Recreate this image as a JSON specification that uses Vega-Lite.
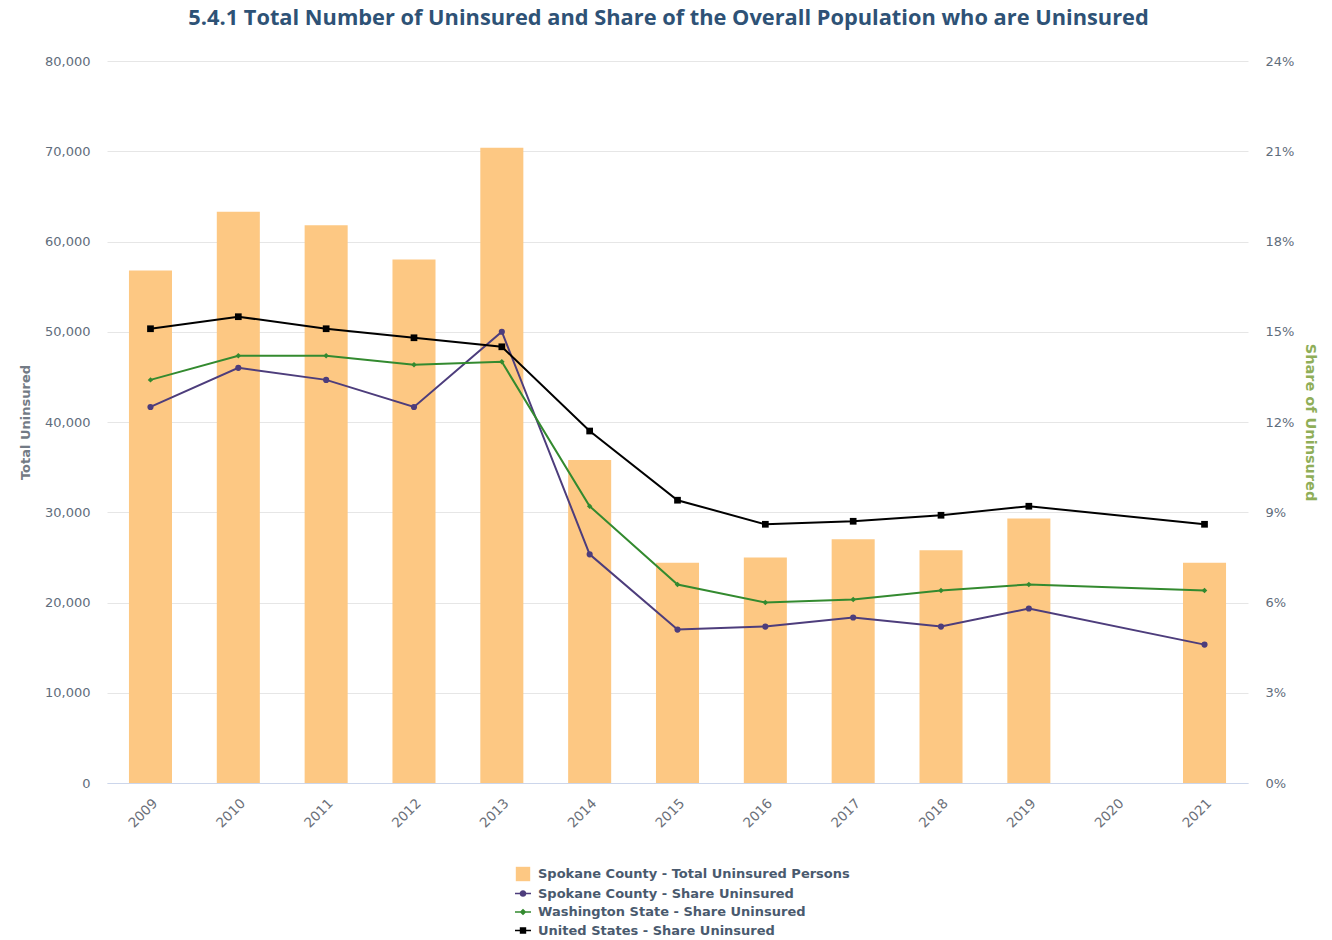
{
  "$schema": "https://vega.github.io/schema/vega-lite/v6.json",
  "autosize": {"type": "none"},
  "width": 1141,
  "height": 722,
  "padding": {"left": 107, "top": 61, "right": 84, "bottom": 157},
  "background": "white",
  "config": {
    "view": {"stroke": null},
    "font": "DejaVu Sans"
  },
  "title": {
    "text": "5.4.1 Total Number of Uninsured and Share of the Overall Population who are Uninsured",
    "font": "Open Sans",
    "fontSize": 21.8,
    "fontWeight": "bold",
    "color": "#2e5276",
    "anchor": "middle",
    "frame": "group",
    "dx": -9,
    "offset": 25
  },
  "datasets": {
    "bars": [
      {"year": 2009, "total": 56800},
      {"year": 2010, "total": 63300},
      {"year": 2011, "total": 61800},
      {"year": 2012, "total": 58000},
      {"year": 2013, "total": 70400},
      {"year": 2014, "total": 35800},
      {"year": 2015, "total": 24400},
      {"year": 2016, "total": 25000},
      {"year": 2017, "total": 27000},
      {"year": 2018, "total": 25800},
      {"year": 2019, "total": 29300},
      {"year": 2021, "total": 24400}
    ],
    "shares": [
      {"year": 2009, "series": "Spokane County - Share Uninsured", "share": 12.5},
      {"year": 2010, "series": "Spokane County - Share Uninsured", "share": 13.8},
      {"year": 2011, "series": "Spokane County - Share Uninsured", "share": 13.4},
      {"year": 2012, "series": "Spokane County - Share Uninsured", "share": 12.5},
      {"year": 2013, "series": "Spokane County - Share Uninsured", "share": 15.0},
      {"year": 2014, "series": "Spokane County - Share Uninsured", "share": 7.6},
      {"year": 2015, "series": "Spokane County - Share Uninsured", "share": 5.1},
      {"year": 2016, "series": "Spokane County - Share Uninsured", "share": 5.2},
      {"year": 2017, "series": "Spokane County - Share Uninsured", "share": 5.5},
      {"year": 2018, "series": "Spokane County - Share Uninsured", "share": 5.2},
      {"year": 2019, "series": "Spokane County - Share Uninsured", "share": 5.8},
      {"year": 2021, "series": "Spokane County - Share Uninsured", "share": 4.6},
      {"year": 2009, "series": "Washington State - Share Uninsured", "share": 13.4},
      {"year": 2010, "series": "Washington State - Share Uninsured", "share": 14.2},
      {"year": 2011, "series": "Washington State - Share Uninsured", "share": 14.2},
      {"year": 2012, "series": "Washington State - Share Uninsured", "share": 13.9},
      {"year": 2013, "series": "Washington State - Share Uninsured", "share": 14.0},
      {"year": 2014, "series": "Washington State - Share Uninsured", "share": 9.2},
      {"year": 2015, "series": "Washington State - Share Uninsured", "share": 6.6},
      {"year": 2016, "series": "Washington State - Share Uninsured", "share": 6.0},
      {"year": 2017, "series": "Washington State - Share Uninsured", "share": 6.1},
      {"year": 2018, "series": "Washington State - Share Uninsured", "share": 6.4},
      {"year": 2019, "series": "Washington State - Share Uninsured", "share": 6.6},
      {"year": 2021, "series": "Washington State - Share Uninsured", "share": 6.4},
      {"year": 2009, "series": "United States - Share Uninsured", "share": 15.1},
      {"year": 2010, "series": "United States - Share Uninsured", "share": 15.5},
      {"year": 2011, "series": "United States - Share Uninsured", "share": 15.1},
      {"year": 2012, "series": "United States - Share Uninsured", "share": 14.8},
      {"year": 2013, "series": "United States - Share Uninsured", "share": 14.5},
      {"year": 2014, "series": "United States - Share Uninsured", "share": 11.7},
      {"year": 2015, "series": "United States - Share Uninsured", "share": 9.4},
      {"year": 2016, "series": "United States - Share Uninsured", "share": 8.6},
      {"year": 2017, "series": "United States - Share Uninsured", "share": 8.7},
      {"year": 2018, "series": "United States - Share Uninsured", "share": 8.9},
      {"year": 2019, "series": "United States - Share Uninsured", "share": 9.2},
      {"year": 2021, "series": "United States - Share Uninsured", "share": 8.6}
    ]
  },
  "layer": [
    {
      "data": {"name": "bars"},
      "mark": {"type": "bar", "color": "#fdc883"},
      "encoding": {
        "x": {
          "field": "year",
          "type": "ordinal",
          "scale": {"domain": [2009, 2010, 2011, 2012, 2013, 2014, 2015, 2016, 2017, 2018, 2019, 2020, 2021], "paddingInner": 0.51, "paddingOuter": 0.25},
          "axis": {
            "title": null,
            "labelAngle": -45,
            "ticks": false,
            "domainColor": "#ccd6eb",
            "domainWidth": 1,
            "labelColor": "#6b7079",
            "labelFontSize": 13.5,
            "labelPadding": 13,
            "grid": false
          }
        },
        "y": {
          "field": "total",
          "type": "quantitative",
          "scale": {"domain": [0, 80000], "nice": false},
          "axis": {
            "title": "Total Uninsured",
            "titleColor": "#737b85",
            "titleFontSize": 13,
            "titleFontWeight": "bold",
            "titlePadding": 12,
            "values": [0, 10000, 20000, 30000, 40000, 50000, 60000, 70000, 80000],
            "format": ",d",
            "labelColor": "#5f6d7c",
            "labelFontSize": 13,
            "labelPadding": 17,
            "ticks": false,
            "domain": false,
            "grid": true,
            "gridColor": "#e6e6e6"
          }
        }
      }
    },
    {
      "layer": [
        {
          "data": {"name": "shares"},
          "mark": {"type": "line", "strokeWidth": 2},
          "encoding": {
            "x": {"field": "year", "type": "ordinal"},
            "y": {
              "field": "share",
              "type": "quantitative",
              "scale": {"domain": [0, 24], "nice": false},
              "axis": {
                "orient": "right",
                "title": "Share of Uninsured",
                "titleColor": "#8fae58",
                "titleFontSize": 14.5,
                "titleFontWeight": "bold",
                "titlePadding": 9,
                "values": [0, 3, 6, 9, 12, 15, 18, 21, 24],
                "labelExpr": "datum.value + '%'",
                "labelColor": "#5f6d7c",
                "labelFontSize": 13,
                "labelPadding": 17,
                "ticks": false,
                "domain": false,
                "grid": false
              }
            },
            "color": {
              "field": "series",
              "type": "nominal",
              "scale": {
                "domain": ["Spokane County - Total Uninsured Persons", "Spokane County - Share Uninsured", "Washington State - Share Uninsured", "United States - Share Uninsured"],
                "range": ["#fdc883", "#4d3d7c", "#338a2f", "#000000"]
              }
            }
          }
        },
        {
          "data": {"name": "shares"},
          "transform": [{"filter": "datum.series === 'Spokane County - Share Uninsured'"}],
          "mark": {"type": "point", "shape": "circle", "filled": true, "size": 38, "opacity": 1, "color": "#4d3d7c"},
          "encoding": {
            "x": {"field": "year", "type": "ordinal"},
            "y": {"field": "share", "type": "quantitative"}
          }
        },
        {
          "data": {"name": "shares"},
          "transform": [{"filter": "datum.series === 'Washington State - Share Uninsured'"}],
          "mark": {"type": "point", "shape": "diamond", "filled": true, "size": 30, "opacity": 1, "color": "#338a2f"},
          "encoding": {
            "x": {"field": "year", "type": "ordinal"},
            "y": {"field": "share", "type": "quantitative"}
          }
        },
        {
          "data": {"name": "shares"},
          "transform": [{"filter": "datum.series === 'United States - Share Uninsured'"}],
          "mark": {"type": "point", "shape": "square", "filled": true, "size": 45, "opacity": 1, "color": "#000000"},
          "encoding": {
            "x": {"field": "year", "type": "ordinal"},
            "y": {"field": "share", "type": "quantitative"}
          }
        },
        {
          "data": {"name": "shares"},
          "transform": [{"filter": "false"}],
          "mark": {"type": "point", "filled": true, "opacity": 1},
          "encoding": {
            "color": {
              "field": "series",
              "type": "nominal",
              "scale": {
                "domain": ["Spokane County - Total Uninsured Persons", "Spokane County - Share Uninsured", "Washington State - Share Uninsured", "United States - Share Uninsured"],
                "range": ["#fdc883", "#4d3d7c", "#338a2f", "#000000"]
              },
              "legend": {
                "orient": "none",
                "legendX": 408,
                "legendY": 805,
                "direction": "vertical",
                "title": null,
                "padding": 0,
                "symbolSize": 256,
                "symbolStrokeWidth": 0,
                "symbolOpacity": 1,
                "labelFont": "DejaVu Sans",
                "labelFontSize": 13,
                "labelFontWeight": "bold",
                "labelColor": "#4a5a6e",
                "labelOffset": 7,
                "rowPadding": 3.5,
                "labelLimit": 500
              }
            },
            "shape": {
              "field": "series",
              "type": "nominal",
              "scale": {
                "domain": ["Spokane County - Total Uninsured Persons", "Spokane County - Share Uninsured", "Washington State - Share Uninsured", "United States - Share Uninsured"],
                "range": [
                  "M-0.9,-0.9H0.9V0.9H-0.9Z",
                  "M-1,-0.1H1V0.1H-1Z M-0.42,0A0.42,0.42 0 1,1 0.42,0A0.42,0.42 0 1,1 -0.42,0Z",
                  "M-1,-0.1H1V0.1H-1Z M0,-0.42L0.42,0L0,0.42L-0.42,0Z",
                  "M-1,-0.1H1V0.1H-1Z M-0.4,-0.4H0.4V0.4H-0.4Z"
                ]
              },
              "legend": {
                "orient": "none",
                "legendX": 408,
                "legendY": 805,
                "direction": "vertical",
                "title": null,
                "padding": 0,
                "symbolSize": 256,
                "symbolStrokeWidth": 0,
                "symbolOpacity": 1,
                "labelFont": "DejaVu Sans",
                "labelFontSize": 13,
                "labelFontWeight": "bold",
                "labelColor": "#4a5a6e",
                "labelOffset": 7,
                "rowPadding": 3.5,
                "labelLimit": 500
              }
            }
          }
        }
      ]
    }
  ],
  "resolve": {"scale": {"y": "independent"}}
}
